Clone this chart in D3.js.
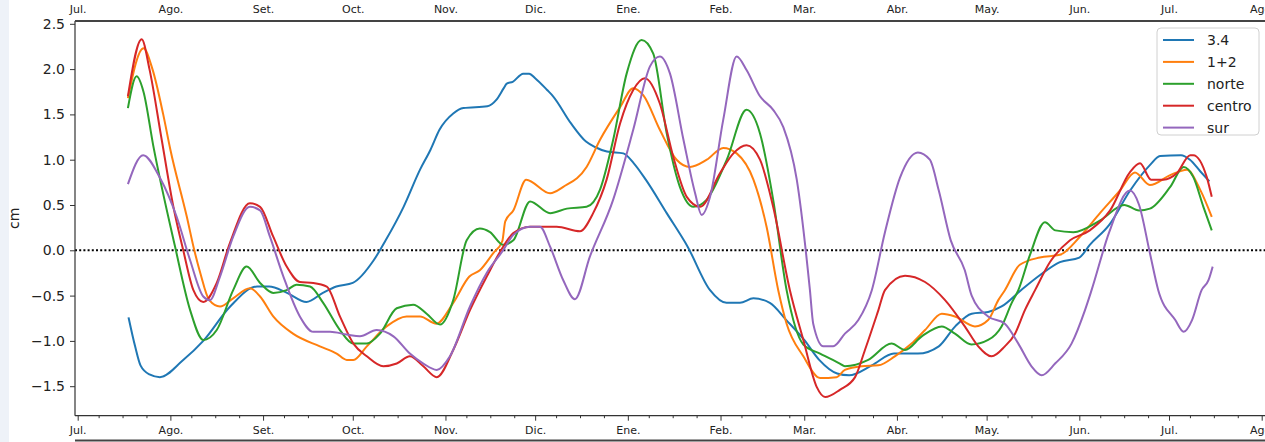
<!DOCTYPE html>
<html>
<head>
<meta charset="utf-8">
<title>anomalias nivel del mar</title>
<script src="https://cdnjs.cloudflare.com/ajax/libs/d3/7.8.5/d3.min.js"></script>
<style>
  html, body { margin: 0; padding: 0; background: #fff; }
  body { width: 1265px; height: 442px; overflow: hidden; }
  svg { display: block; font-family: "DejaVu Sans", sans-serif; }
</style>
</head>
<body>
<svg id="chart" width="1265" height="442"></svg>
<script>
// days since 1 Jul, value in cm
const monthLabels = ['Jul.', 'Ago.', 'Set.', 'Oct.', 'Nov.', 'Dic.', 'Ene.', 'Feb.', 'Mar.', 'Abr.', 'May.', 'Jun.', 'Jul.', 'Ago.'];
const yTicks = [-1.5, -1.0, -0.5, 0.0, 0.5, 1.0, 1.5, 2.0, 2.5];
const seriesNames = ['3.4', '1+2', 'norte', 'centro', 'sur'];
const seriesColors = ['#1f77b4', '#ff7f0e', '#2ca02c', '#d62728', '#9467bd'];

const nino34 = [[17,-0.74],[19.2,-1.06],[21,-1.27],[24,-1.37],[27.5,-1.40],[35,-1.22],[42,-1.0],[51,-0.62],[60,-0.40],[64,-0.40],[70,-0.47],[76.5,-0.57],[82,-0.47],[86.5,-0.40],[92,-0.36],[99,-0.11],[103,0.11],[109,0.48],[114.5,0.89],[118,1.11],[121,1.33],[125.6,1.51],[129,1.57],[137,1.59],[140,1.66],[142.5,1.79],[143.5,1.84],[145.5,1.86],[149,1.95],[151,1.95],[153,1.90],[157,1.77],[159,1.70],[165,1.40],[170,1.20],[173,1.14],[177,1.09],[182.5,1.07],[186,0.96],[190,0.78],[197,0.41],[204,0.04],[211.5,-0.44],[217,-0.58],[221.5,-0.58],[226,-0.53],[231.5,-0.58],[237,-0.77],[243,-0.99],[248,-1.21],[254,-1.36],[258,-1.38],[265.6,-1.27],[273,-1.14],[281,-1.14],[288,-1.06],[293.5,-0.84],[299,-0.70],[304.5,-0.68],[309,-0.62],[315.5,-0.44],[322,-0.27],[328.5,-0.13],[335,-0.08],[338.5,0.06],[345,0.28],[352,0.66],[358.6,0.94],[362,1.04],[369,1.05],[372,1.0],[375.5,0.87],[378.5,0.76]];
const nino12 = [[16.8,1.68],[22,2.23],[25,2.0],[28.6,1.5],[31,1.11],[36.5,0.37],[39,0.0],[41,-0.25],[44,-0.55],[47.6,-0.62],[52,-0.53],[57.6,-0.42],[61,-0.51],[65.4,-0.73],[72,-0.92],[81,-1.06],[86.6,-1.14],[90,-1.21],[92.2,-1.21],[96.7,-1.06],[103.3,-0.84],[110,-0.73],[114.5,-0.73],[120,-0.81],[125.6,-0.58],[131,-0.29],[134.5,-0.22],[139,-0.03],[142,0.10],[143,0.32],[145.7,0.44],[150,0.78],[158,0.63],[162.4,0.70],[170.2,0.92],[174.7,1.22],[181.4,1.58],[185.8,1.79],[189.2,1.71],[194.7,1.33],[200.3,1.0],[204.8,0.92],[210.4,1.0],[215.9,1.13],[220.4,1.07],[226,0.78],[230.4,0.26],[234.3,-0.44],[237.1,-0.81],[242.7,-1.17],[248.3,-1.41],[253.8,-1.40],[256.6,-1.32],[262.2,-1.28],[267.8,-1.27],[273.3,-1.17],[278.9,-1.03],[283.4,-0.88],[289,-0.70],[293.4,-0.73],[300.1,-0.84],[304.5,-0.77],[307.9,-0.55],[310.1,-0.44],[315.1,-0.16],[321.8,-0.08],[328.5,-0.05],[335.2,0.15],[341.9,0.41],[348.6,0.66],[353.6,0.86],[358.6,0.72],[365.4,0.83],[371,0.89],[375.4,0.67],[379.3,0.37]];
const norte = [[16.8,1.57],[19.7,1.92],[22,1.75],[25.3,1.15],[32.5,0.05],[37.6,-0.66],[42,-0.99],[46.5,-0.88],[52,-0.44],[56.5,-0.18],[61,-0.36],[65.4,-0.47],[69.9,-0.44],[73.2,-0.38],[77.7,-0.40],[82.1,-0.58],[87.7,-0.88],[92.2,-1.03],[96.7,-1.03],[101.1,-0.92],[106.7,-0.64],[112.2,-0.60],[116.7,-0.70],[121.2,-0.82],[125.6,-0.55],[130.1,0.11],[134.5,0.24],[137.9,0.20],[142.3,0.06],[145.7,0.11],[151.3,0.54],[158,0.41],[163.6,0.46],[170.2,0.48],[174.7,0.67],[179.1,1.22],[183.6,1.95],[188.6,2.32],[192.5,2.17],[197,1.29],[201.4,0.70],[205.9,0.48],[210.4,0.56],[217.1,1.00],[223.7,1.55],[228.2,1.29],[232.6,0.56],[237.1,-0.44],[242.7,-1.04],[248.3,-1.14],[254.9,-1.25],[256.6,-1.28],[264.4,-1.21],[272.2,-1.03],[276.7,-1.10],[282.3,-0.95],[289,-0.84],[293.4,-0.92],[298.9,-1.04],[304.5,-0.99],[309,-0.84],[312.4,-0.58],[314.6,-0.44],[318.5,-0.05],[323.5,0.31],[327,0.22],[333,0.2],[342,0.33],[350,0.5],[355,0.44],[358.6,0.46],[365.4,0.70],[369.9,0.92],[373.1,0.81],[376.5,0.48],[379.3,0.22]];
const centro = [[16.8,1.70],[21.4,2.33],[24,2.0],[28.1,1.22],[32,0.48],[35.3,0.0],[38.7,-0.44],[42,-0.57],[46.5,-0.36],[50.9,0.08],[57.6,0.52],[61,0.48],[65.4,0.15],[69.9,-0.18],[74.3,-0.35],[78.8,-0.36],[83.3,-0.40],[87.7,-0.73],[92.2,-1.03],[96.7,-1.17],[102.2,-1.28],[106.7,-1.25],[111.1,-1.17],[115.6,-1.28],[120.1,-1.40],[125.6,-1.10],[131.2,-0.66],[136.8,-0.29],[142.3,0.04],[145.7,0.19],[151.3,0.26],[160.2,0.26],[168,0.21],[172.4,0.41],[176.9,0.78],[181.4,1.40],[185.8,1.77],[189.7,1.90],[194.7,1.62],[199.2,1.03],[203.7,0.59],[208.2,0.48],[214.8,0.85],[219.3,1.07],[223.7,1.16],[228.2,1.00],[232.6,0.48],[238.2,-0.44],[242.7,-0.99],[247.2,-1.51],[250,-1.62],[254.9,-1.54],[260,-1.40],[263.3,-1.10],[267.8,-0.66],[270,-0.44],[276.7,-0.28],[283.4,-0.35],[290.1,-0.55],[296.7,-0.84],[301.2,-1.06],[305.7,-1.17],[310.1,-1.06],[313.5,-0.92],[316.8,-0.66],[320.2,-0.44],[325.2,-0.13],[331.9,0.11],[338.5,0.22],[345.3,0.44],[351.9,0.86],[355.3,0.96],[359,0.78],[363.1,0.78],[367.6,0.85],[372.1,1.05],[373.1,1.05],[377.6,0.81],[379.3,0.59]];
const sur = [[16.8,0.73],[21.9,1.05],[27.5,0.80],[33.1,0.37],[37.6,-0.11],[42,-0.51],[44.2,-0.55],[47.6,-0.29],[52,0.15],[57.6,0.48],[61,0.44],[64.3,0.15],[68.8,-0.29],[74.3,-0.73],[78.8,-0.90],[84.4,-0.90],[90,-0.93],[94.4,-0.95],[100,-0.88],[105.6,-0.95],[111.1,-1.14],[115.6,-1.25],[120.1,-1.32],[124.5,-1.17],[131.2,-0.62],[136.8,-0.25],[142.3,0.0],[145.7,0.17],[151.3,0.26],[154.6,0.26],[158,0.04],[162.4,-0.33],[166.3,-0.54],[171.3,-0.07],[179.1,0.56],[185.8,1.33],[191.4,2.03],[194.7,2.14],[198.1,1.95],[202.6,1.22],[206.5,0.63],[208.7,0.39],[211.5,0.59],[215.9,1.44],[220.4,2.14],[223.7,1.99],[228.2,1.70],[232.6,1.55],[236,1.36],[240.5,0.78],[244.9,-0.44],[246,-0.81],[249.4,-1.06],[252.7,-1.06],[256.6,-0.92],[261.1,-0.77],[265.6,-0.44],[270,0.2],[275,0.8],[281,1.08],[285,1.0],[288,0.66],[292,0.11],[296.7,-0.22],[299,-0.5],[304.5,-0.73],[310.1,-0.81],[314.6,-1.03],[319,-1.28],[322.4,-1.38],[326.9,-1.25],[332.4,-1.03],[336.9,-0.66],[339.1,-0.44],[345,0.2],[351.9,0.66],[355,0.5],[358.6,-0.03],[361.4,-0.44],[367.1,-0.77],[369.9,-0.90],[372.7,-0.77],[375.9,-0.44],[378.2,-0.33],[379.6,-0.18]];

const allSeries = [nino34, nino12, norte, centro, sur];

const t0 = Date.UTC(2022, 6, 1);
const day = d => new Date(t0 + d * 864e5);

const svg = d3.select('#chart');
const plotLeft = 75, plotTop = 21, plotBottom = 415.7, plotRight = 1265;

svg.append('rect').attr('x', 0).attr('y', 0).attr('width', 9).attr('height', 442).attr('fill', '#eef2f8');

const x = d3.scaleUtc().domain([day(0), day(396)]).range([77.7, 1261.7]);
const y = d3.scaleLinear().domain([0, 2.5]).range([250.3, 23.8]);

const monthTicks = d3.utcMonth.range(day(0), day(397));
const minorTicks = d3.utcDay.range(day(0), day(397)).filter(d => [8, 16, 24].includes(d.getUTCDate()));

// x axis (bottom)
const xAxis = d3.axisBottom(x).tickValues(monthTicks).tickSize(5).tickPadding(6)
  .tickFormat((d, i) => monthLabels[i]);
const gx = svg.append('g').attr('transform', `translate(0,${plotBottom})`).call(xAxis);
gx.select('.domain').remove();
gx.selectAll('text').attr('font-size', 11).attr('fill', '#222').attr('font-family', 'DejaVu Sans');
gx.selectAll('line').attr('stroke', '#333');
const gxm = svg.append('g').attr('transform', `translate(0,${plotBottom})`)
  .call(d3.axisBottom(x).tickValues(minorTicks).tickSize(2.5).tickFormat(''));
gxm.select('.domain').remove();
gxm.selectAll('line').attr('stroke', '#333');

// labels of the panel above
const gtop = svg.append('g').attr('transform', 'translate(0,-5.5)')
  .call(d3.axisBottom(x).tickValues(monthTicks).tickSize(5).tickPadding(6).tickFormat((d, i) => monthLabels[i]));
gtop.select('.domain').remove();
gtop.selectAll('line').remove();
gtop.selectAll('text').attr('font-size', 11).attr('fill', '#222').attr('font-family', 'DejaVu Sans');

// y axis
const yAxis = d3.axisLeft(y).tickValues(yTicks).tickSize(5).tickPadding(5)
  .tickFormat(d => d3.format('.1f')(d).replace('-', '\u2212'));
const gy = svg.append('g').attr('transform', `translate(${plotLeft},0)`).call(yAxis);
gy.select('.domain').remove();
gy.selectAll('text').attr('font-size', 14).attr('fill', '#222').attr('font-family', 'DejaVu Sans');
gy.selectAll('line').attr('stroke', '#333');

svg.append('text').attr('transform', `translate(19,${(plotTop + plotBottom) / 2}) rotate(-90)`)
  .attr('text-anchor', 'middle').attr('font-size', 14).attr('fill', '#222').text('cm');

// zero line
svg.append('line').attr('x1', plotLeft).attr('x2', plotRight).attr('y1', y(0)).attr('y2', y(0))
  .attr('stroke', '#000').attr('stroke-width', 2).attr('stroke-dasharray', '2,2.2');

// series
const line = d3.line().x(d => x(day(d[0]))).y(d => y(d[1])).curve(d3.curveMonotoneX);
allSeries.forEach((s, i) => {
  svg.append('path').datum(s).attr('d', line).attr('fill', 'none')
    .attr('stroke', seriesColors[i]).attr('stroke-width', 2).attr('stroke-linejoin', 'round');
});

// frame
svg.append('line').attr('x1', plotLeft).attr('x2', plotLeft).attr('y1', plotTop).attr('y2', plotBottom).attr('stroke', '#333').attr('stroke-width', 1.2);
svg.append('line').attr('x1', plotLeft).attr('x2', plotRight).attr('y1', plotBottom).attr('y2', plotBottom).attr('stroke', '#333').attr('stroke-width', 1.2);
svg.append('line').attr('x1', plotLeft).attr('x2', plotRight).attr('y1', plotTop).attr('y2', plotTop).attr('stroke', '#444').attr('stroke-width', 1.8);
// top edge of the panel below
svg.append('line').attr('x1', plotLeft).attr('x2', plotRight).attr('y1', 440.5).attr('y2', 440.5).attr('stroke', '#444').attr('stroke-width', 1.8);

// legend
const lg = svg.append('g').attr('transform', 'translate(1157,28)');
lg.append('rect').attr('width', 102).attr('height', 107).attr('rx', 4)
  .attr('fill', '#fff').attr('fill-opacity', 0.8).attr('stroke', '#d0d0d0');
seriesNames.forEach((n, i) => {
  const yy = 12 + i * 21.9;
  lg.append('line').attr('x1', 6).attr('x2', 37).attr('y1', yy).attr('y2', yy)
    .attr('stroke', seriesColors[i]).attr('stroke-width', 2);
  lg.append('text').attr('x', 50).attr('y', yy).attr('dy', '0.35em')
    .attr('font-size', 14).attr('fill', '#222').text(n);
});
</script>
</body>
</html>
